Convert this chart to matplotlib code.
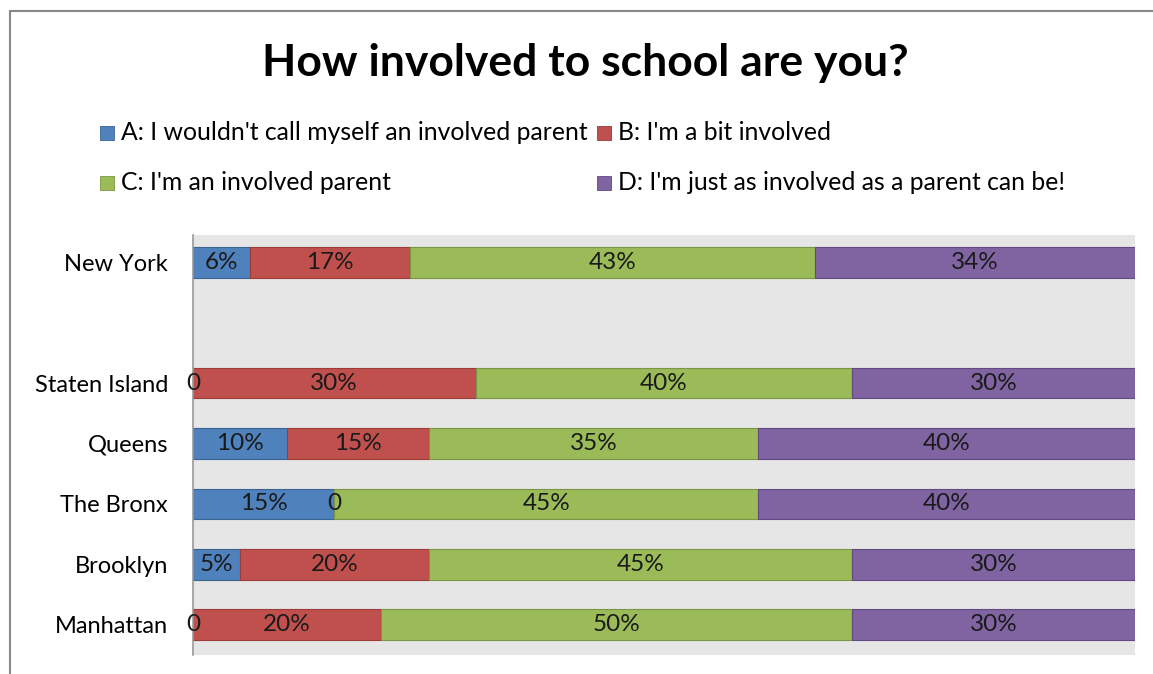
import matplotlib.pyplot as plt
from matplotlib.patches import Rectangle
import numpy as np

# datos (porcentajes)
ciudades = ['Manhattan', 'Brooklyn', 'The Bronx', 'Queens', 'Staten Island', '', 'New York']
serie_a = [0, 5, 15, 10, 0, None, 6]
serie_b = [20, 20, 0, 15, 30, None, 17]
serie_c = [50, 45, 45, 35, 40, None, 43]
serie_d = [30, 30, 40, 40, 30, None, 34]
nombres = ["A: I wouldn't call myself an involved parent",
           "B: I'm a bit involved",
           "C: I'm an involved parent",
           "D: I'm just as involved as a parent can be!"]
colores = ['#4F81BD', '#C0504D', '#9BBB59', '#8064A2']
bordes = ['#3A6494', '#9C3B38', '#7A9645', '#604A80']

plt.rcParams['font.family'] = ['Lato', 'DejaVu Sans']

fig = plt.figure(figsize=(11.53, 6.74), dpi=100)
ax = fig.add_axes([193/1153, 1-655/674, (1135-193)/1153, (655-235)/674])
ax.set_facecolor('#E6E6E6')

series = [serie_a, serie_b, serie_c, serie_d]
y = np.arange(len(ciudades))
izq = np.zeros(len(ciudades))
for s, col, borde in zip(series, colores, bordes):
    for i, v in enumerate(s):
        if v is None:
            continue
        ax.barh(y[i], v, left=izq[i], height=0.51, color=col,
                edgecolor=borde, linewidth=0.8)
        ax.text(izq[i] + v/2, y[i], '%d%%' % v if v > 0 else '0',
                ha='center', va='center', fontsize=17.5, color='#1a1a1a')
        izq[i] += v

ax.set_xlim(0, 100)
ax.set_ylim(-0.5, 6.45)
ax.set_yticks(y)
ax.set_yticklabels(ciudades, fontsize=17)
ax.tick_params(axis='y', length=0, pad=18)
ax.set_xticks([])
for lado in ['top', 'right', 'bottom']:
    ax.spines[lado].set_visible(False)
ax.spines['left'].set_color('#999999')
ax.spines['left'].set_linewidth(1.2)

fig.text(585/1153, 1-63/674, 'How involved to school are you?', ha='center',
         va='center', fontsize=32, fontweight='bold')

# leyenda colocada como en el original
pos_leyenda = [(100, 133), (597, 133), (100, 183), (597, 183)]
for (px, py), nombre, col, borde in zip(pos_leyenda, nombres, colores, bordes):
    fig.add_artist(Rectangle((px/1153, 1-(py+7)/674), 14/1153, 14/674,
                             facecolor=col, edgecolor=borde, linewidth=0.6,
                             transform=fig.transFigure))
    fig.text((px+21)/1153, 1-py/674, nombre, ha='left', va='center', fontsize=17.8)

# marco del grafico
fig.add_artist(Rectangle((10/1153, -0.1), 1.2, 1-11/674+0.1, fill=False,
                         edgecolor='#888888', linewidth=1.5,
                         transform=fig.transFigure))

fig.savefig('out.png', dpi=100)
